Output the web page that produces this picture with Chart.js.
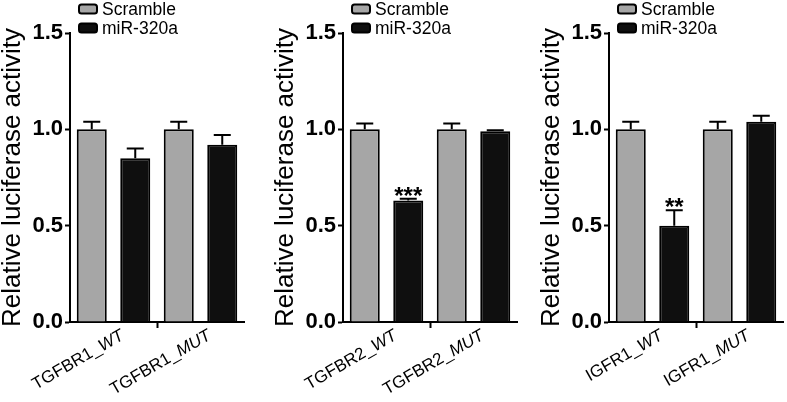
<!DOCTYPE html>
<html><head><meta charset="utf-8">
<script src="https://cdn.jsdelivr.net/npm/chart.js@4.4.1/dist/chart.umd.min.js"></script>
<style>
html,body{margin:0;padding:0;background:#fff;width:787px;height:402px;overflow:hidden;position:relative}
canvas{position:absolute;top:0}
</style></head><body>
<canvas id="c1" width="250" height="402" style="left:0px"></canvas>
<canvas id="c2" width="250" height="402" style="left:273px"></canvas>
<canvas id="c3" width="250" height="402" style="left:539px"></canvas>
<script>
// ---- data ----
const seriesNames = ['Scramble', 'miR-320a'];
const yTickValues = [0, 0.5, 1.0, 1.5];
const yTitle = 'Relative luciferase activity';

const categories1 = ['TGFBR1_WT', 'TGFBR1_MUT'];
const scramble1 = [1.00, 1.00];
const scrambleErr1 = [0.04, 0.04];
const mir1 = [0.85, 0.92];
const mirErr1 = [0.05, 0.05];
const sig1 = ['', ''];

const categories2 = ['TGFBR2_WT', 'TGFBR2_MUT'];
const scramble2 = [1.00, 1.00];
const scrambleErr2 = [0.03, 0.03];
const mir2 = [0.63, 0.99];
const mirErr2 = [0.01, 0.005];
const sig2 = ['***', ''];

const categories3 = ['IGFR1_WT', 'IGFR1_MUT'];
const scramble3 = [1.00, 1.00];
const scrambleErr3 = [0.04, 0.04];
const mir3 = [0.50, 1.04];
const mirErr3 = [0.08, 0.03];
const sig3 = ['**', ''];

// ---- styles ----
const FONT = "'Liberation Sans', Arial, Helvetica, sans-serif";
const GRAY = '#a6a6a6';
const BLACK = '#0f0f0f';

const errPlugin = {
  id: 'errbars',
  afterDatasetsDraw(chart) {
    const ctx = chart.ctx, ys = chart.scales.y;
    chart.data.datasets.forEach((ds, di) => {
      const meta = chart.getDatasetMeta(di);
      meta.data.forEach((bar, i) => {
        const v = ds.data[i], e = ds.err[i];
        const yTop = ys.getPixelForValue(v + e);
        ctx.save();
        ctx.strokeStyle = '#000';
        ctx.lineWidth = 2;
        ctx.beginPath();
        ctx.moveTo(bar.x, bar.y);
        ctx.lineTo(bar.x, yTop);
        ctx.moveTo(bar.x - 8.5, yTop);
        ctx.lineTo(bar.x + 8.5, yTop);
        ctx.stroke();
        if (ds.sig && ds.sig[i]) {
          ctx.fillStyle = '#000';
          ctx.font = 'bold 24px ' + FONT;
          ctx.textAlign = 'center';
          ctx.textBaseline = 'alphabetic';
          ctx.fillText(ds.sig[i], bar.x, yTop + 5);
        }
        ctx.restore();
      });
    });
  }
};

const labelPlugin = {
  id: 'xlabels',
  afterDraw(chart) {
    const ctx = chart.ctx, xs = chart.scales.x;
    chart.data.labels.forEach((lab, i) => {
      const k = lab.lastIndexOf('_');
      const gene = lab.slice(0, k + 1), suf = lab.slice(k + 1);
      const x = xs.getPixelForValue(i) + 5;
      const y = chart.chartArea.bottom + 5;
      ctx.save();
      ctx.translate(x, y);
      ctx.rotate(-Math.PI / 6);
      ctx.fillStyle = '#000';
      ctx.textBaseline = 'top';
      ctx.textAlign = 'left';
      ctx.font = 'italic 17px ' + FONT;
      const sw = ctx.measureText(suf).width;
      ctx.fillText(suf, -sw, 0);
      ctx.font = '17px ' + FONT;
      const gw = ctx.measureText(gene).width;
      ctx.fillText(gene, -sw - gw, 0);
      ctx.restore();
    });
  }
};

const legendPlugin = {
  id: 'toplegend',
  afterDraw(chart) {
    const ctx = chart.ctx;
    const x0 = chart.chartArea.left + 9;
    const rows = [9, 28];
    chart.data.datasets.forEach((ds, di) => {
      const cy = rows[di];
      ctx.save();
      ctx.fillStyle = ds.backgroundColor;
      ctx.strokeStyle = '#000';
      ctx.lineWidth = 2;
      ctx.beginPath();
      ctx.roundRect(x0, cy - 4.5, 18, 9, 2.5);
      ctx.fill();
      ctx.stroke();
      ctx.fillStyle = '#000';
      ctx.font = '17.5px ' + FONT;
      ctx.textAlign = 'left';
      ctx.textBaseline = 'middle';
      ctx.fillText(ds.label, x0 + 23, cy + 1);
      ctx.restore();
    });
  }
};

function makePanel(id, categories, scr, scrErr, mir, mirErr, sig) {
  new Chart(document.getElementById(id), {
    type: 'bar',
    data: {
      labels: categories,
      datasets: [
        { label: seriesNames[0], data: scr, err: scrErr, backgroundColor: GRAY, borderColor: '#000', borderWidth: 2, categoryPercentage: 1.0, barPercentage: 0.69 },
        { label: seriesNames[1], data: mir, err: mirErr, sig: sig, backgroundColor: BLACK, borderColor: '#000', borderWidth: 2, categoryPercentage: 1.0, barPercentage: 0.69 }
      ]
    },
    options: {
      responsive: false,
      animation: false,
      devicePixelRatio: 1,
      layout: { padding: { top: 33, left: 0, right: 6, bottom: 0 } },
      plugins: { legend: { display: false }, tooltip: { enabled: false } },
      scales: {
        x: {
          ticks: { display: false },
          grid: { display: true, drawOnChartArea: false, offset: true, tickLength: 6, tickWidth: 2,
                  tickColor: c => (c.index === 1 ? '#000' : 'rgba(0,0,0,0)') },
          border: { display: true, color: '#000', width: 2 },
          afterFit: s => { s.height = 80; }
        },
        y: {
          min: 0, max: 1.5,
          afterBuildTicks: s => { s.ticks = yTickValues.map(v => ({ value: v })); },
          ticks: { callback: v => Number(v).toFixed(1), font: { family: FONT, size: 22, weight: 'bold' }, color: '#000', padding: 2 },
          grid: { drawOnChartArea: false, tickLength: 5, tickWidth: 2, tickColor: '#000' },
          border: { color: '#000', width: 2 },
          title: { display: true, text: yTitle, font: { family: FONT, size: 26, lineHeight: 1 }, color: '#000', padding: 0 },
          afterFit: s => { s.width = 70; }
        }
      }
    },
    plugins: [errPlugin, labelPlugin, legendPlugin]
  });
}

makePanel('c1', categories1, scramble1, scrambleErr1, mir1, mirErr1, sig1);
makePanel('c2', categories2, scramble2, scrambleErr2, mir2, mirErr2, sig2);
makePanel('c3', categories3, scramble3, scrambleErr3, mir3, mirErr3, sig3);
</script>
</body></html>
